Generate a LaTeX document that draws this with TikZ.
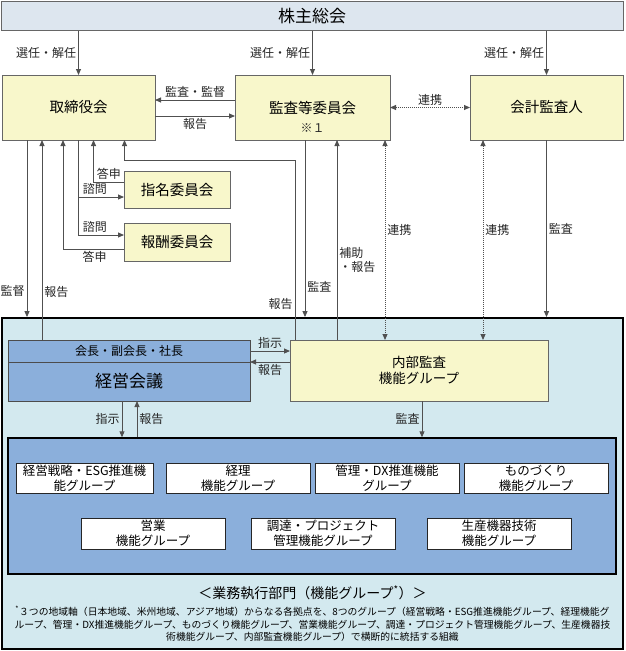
\documentclass[tikz,border=0pt]{standalone}
\usepackage{fontspec}
\setmainfont{Noto Sans CJK JP}
\usetikzlibrary{arrows.meta,calc}
\definecolor{kabufill}{HTML}{DDE6EF}
\definecolor{ylw}{HTML}{F8F7CB}
\definecolor{ltblue}{HTML}{D3E9EF}
\definecolor{midblue}{HTML}{8BAFDB}
\definecolor{linegray}{HTML}{505050}
\newcommand{\fsz}[2]{\fontsize{#1}{#2}\selectfont}

\begin{document}
\begin{tikzpicture}[x=1pt,y=-1pt,
  box/.style={draw=black!60, line width=1pt, inner sep=0pt, outer sep=0pt, align=center},
  ybox/.style={box, fill=ylw, font=\fsz{14.5}{17}},
  wbox/.style={draw=black!85, line width=0.8pt, fill=white, minimum width=144pt, minimum height=30pt,
    inner sep=0pt, outer sep=0pt, align=center, font=\fsz{12.5}{15}},
  arr/.style={draw=linegray, line width=0.9pt, -{Triangle[length=6pt,width=5pt]}},
  link/.style={draw=linegray, line width=0.9pt, dash pattern=on 1pt off 1pt,
    {Triangle[length=6pt,width=5pt]}-{Triangle[length=6pt,width=5pt]}},
  lbl/.style={inner sep=2pt, font=\fsz{12}{14}, text=black!85}]
\useasboundingbox (0,0) rectangle (625,651);

% upper organs
\node[box, fill=kabufill, minimum width=622pt, minimum height=29pt, font=\fsz{17}{20}] (kabu) at (312,16) {株主総会};
\node[ybox, minimum width=153pt, minimum height=65pt] (tori) at (78.5,107.5) {取締役会};
\node[ybox, minimum width=155pt, minimum height=65pt] (kansa) at (312.5,107.5) {監査等委員会};
\node[lbl, font=\fsz{12}{14}] (kome) at ([yshift=12pt]kansa.south) {※１};
\node[ybox, minimum width=153pt, minimum height=65pt] (kaikei) at (546.5,107.5) {会計監査人};
\node[ybox, minimum width=106pt, minimum height=37pt] (shimei) at (177,189.5) {指名委員会};
\node[ybox, minimum width=106pt, minimum height=38pt] (hoshu) at (177,242) {報酬委員会};

% execution side
\node[draw=black, line width=1.8pt, fill=ltblue, minimum width=621pt, minimum height=331pt, inner sep=0pt] (gyomu) at (312.5,483.5) {};
\node[box, draw=black!70, fill=midblue, minimum width=242pt, minimum height=22pt, font=\fsz{12}{14}] (kaicho) at (129,351) {会長・副会長・社長};
\node[box, draw=black!70, fill=midblue, minimum width=242pt, minimum height=39pt, font=\fsz{17}{20}] (keiei) at (129,381.5) {経営会議};
\node[ybox, minimum width=258pt, minimum height=61pt, font=\fsz{13.5}{16.5}] (naibu) at (419,370.5) {内部監査\\機能グループ};
\node[draw=black, line width=1.4pt, fill=midblue, minimum width=608pt, minimum height=136pt, inner sep=0pt] (kino) at (312,506) {};
\node[wbox, minimum width=137pt] (senryaku) at (84.5,478) {経営戦略・ESG推進機\\能グループ};
\node[wbox] (keiri) at (238,478) {経理\\機能グループ};
\node[wbox] (kanri) at (387,478) {管理・DX推進機能\\グループ};
\node[wbox] (monozukuri) at (536,478) {ものづくり\\機能グループ};
\node[wbox, minimum height=31pt] (eigyo) at (153,533.5) {営業\\機能グループ};
\node[wbox, minimum height=31pt] (chotatsu) at (323,533.5) {調達・プロジェクト\\管理機能グループ};
\node[wbox, minimum height=31pt] (seisan) at (499,533.5) {生産機器技術\\機能グループ};
\node[font=\fsz{14}{17}] (bumon) at (312.5,593) {＜業務執行部門（機能グループ\textsuperscript{*}）＞};
\node[font=\fsz{9.8}{12.5}, align=center, inner sep=0pt] (chu) at (312.5,624)
  {\textsuperscript{*}３つの地域軸（日本地域、米州地域、アジア地域）からなる各拠点を、8つのグループ（経営戦略・ESG推進機能グループ、経理機能グ\\
   ループ、管理・DX推進機能グループ、ものづくり機能グループ、営業機能グループ、調達・プロジェクト管理機能グループ、生産機器技\\
   術機能グループ、内部監査機能グループ）で横断的に統括する組織};

% connector points
\path (tori.south) ++(-51.5,0) coordinate (ta) ++(15,0) coordinate (tb) ++(21,0) coordinate (tc)
  ++(15.5,0) coordinate (td) ++(15,0) coordinate (te) ++(31,0) coordinate (tf);
\path (kansa.south) ++(-7.5,0) coordinate (ka) ++(32,0) coordinate (kb) ++(48,0) coordinate (kc);
\path (kaikei.south) ++(-63.5,0) coordinate (kd);
\path (naibu.north) ++(-124,0) coordinate (nf);
\path (keiei.south) ++(-7,0) coordinate (ks) ++(15,0) coordinate (kr);
\path (naibu.south) ++(3,0) coordinate (ns);

\draw[arr] (kabu.south -| tori.south) -- node[lbl,left](l1){選任・解任} (tori.north);
\draw[arr] (kabu.south -| kansa.south) -- node[lbl,left](l2){選任・解任} (kansa.north);
\draw[arr] (kabu.south -| kaikei.south) -- node[lbl,left](l3){選任・解任} (kaikei.north);
\draw[arr] ([yshift=7.5pt]kansa.west) -- node[lbl,above](l4){監査・監督} ([yshift=7.5pt]tori.east);
\draw[arr] ([yshift=-8.5pt]tori.east) -- node[lbl,below](l5){報告} ([yshift=-8.5pt]kansa.west);
\draw[link] (kansa.east) -- node[lbl,above](l6){連携} (kaikei.west);

\draw[arr] (ta) -- node[lbl,left,pos=0.85](l7){監督} (ta |- gyomu.north);
\draw[arr] (kaicho.north -| tb) -- node[lbl,right,pos=0.24](l8){報告} (tb);
\draw[arr] ([yshift=-7pt]hoshu.west) -| node[lbl,below,pos=0.24](l9){答申} (tc);
\draw[arr] (td) |- node[lbl,above,pos=0.68](l10){諮問} ([yshift=-7.5pt]shimei.west);
\draw[arr] (td) |- node[lbl,above,pos=0.68](l11){諮問} ([yshift=7pt]hoshu.west);
\draw[arr] ([yshift=7.5pt]shimei.west) -| node[lbl,above,pos=0.25](l12){答申} (te);
\draw[arr] (nf) |- node[lbl,left,pos=0.1](l13){報告} ([yshift=-20pt]tf) -- (tf);

\draw[arr] (ka) -- node[lbl,right,pos=0.83](l14){監査} (ka |- gyomu.north);
\draw[arr] (naibu.north -| kb) -- node[lbl,right,pos=0.4,align=left](l15){補助\\・報告} (kb);
\draw[link] (kc) -- node[lbl,right,pos=0.45](l16){連携} (naibu.north -| kc);
\draw[link] (kd) -- node[lbl,right,pos=0.45](l17){連携} (naibu.north -| kd);
\draw[arr] (kaikei.south) -- node[lbl,right,pos=0.5](l18){監査} (kaikei.south |- gyomu.north);

\draw[arr] (kaicho.east) -- node[lbl,above](l19){指示} (kaicho.east -| naibu.west);
\draw[arr] (keiei.north east -| naibu.west) -- node[lbl,below](l20){報告} (keiei.north east);
\draw[arr] (ks) -- node[lbl,left](l21){指示} (ks |- kino.north);
\draw[arr] (kino.north -| kr) -- node[lbl,right](l22){報告} (kr);
\draw[arr] (ns) -- node[lbl,left](l23){監査} (ns |- kino.north);
\end{tikzpicture}
\end{document}
